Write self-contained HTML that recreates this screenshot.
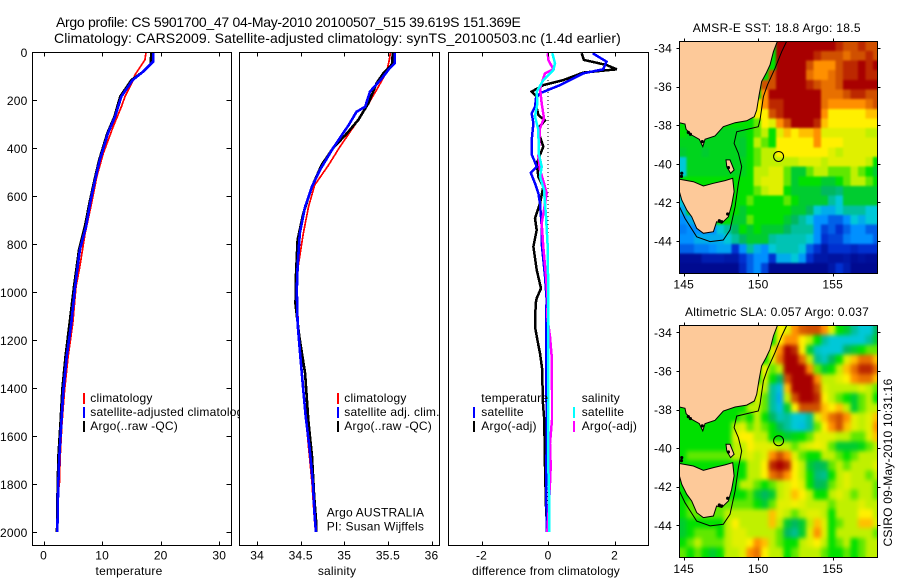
<!DOCTYPE html>
<html>
<head>
<meta charset="utf-8">
<title>Argo profile CS 5901700_47</title>
<style>
html,body{margin:0;padding:0;background:#fff;}
svg{display:block;}
text{font-family:"Liberation Sans",sans-serif;font-size:12px;fill:#000;letter-spacing:.2px;}
.title{font-size:14px;}
</style>
</head>
<body>
<svg id="fig" xmlns="http://www.w3.org/2000/svg" width="900" height="580" viewBox="0 0 900 580">
  <defs>
    <filter id="blurSst" filterUnits="userSpaceOnUse" x="670" y="30" width="220" height="255" color-interpolation-filters="sRGB">
      <feGaussianBlur in="SourceGraphic" stdDeviation="1" result="b"/>
      <feMerge><feMergeNode in="SourceGraphic"/><feMergeNode in="b"/></feMerge>
    </filter>
    <filter id="blurSla" filterUnits="userSpaceOnUse" x="670" y="315" width="220" height="255" color-interpolation-filters="sRGB">
      <feGaussianBlur in="SourceGraphic" stdDeviation="2.2" result="b"/>
      <feMerge><feMergeNode in="SourceGraphic"/><feMergeNode in="b"/></feMerge>
    </filter>
  </defs>
  <rect width="900" height="580" fill="#fff"/>
  <text class="title" x="56" y="27" textLength="465">Argo profile: CS 5901700_47 04-May-2010 20100507_515 39.619S 151.369E</text>
  <text class="title" x="54" y="43" textLength="567">Climatology: CARS2009. Satellite-adjusted climatology: synTS_20100503.nc (1.4d earlier)</text>

  <g id="panelTemp"></g>
  <g id="panelSal"></g>
  <g id="panelDiff"></g>
  <g id="mapSst"></g>
  <g id="mapSla"></g>

  <text x="129" y="575" text-anchor="middle">temperature</text>
  <text x="337" y="575" text-anchor="middle">salinity</text>
  <text x="472" y="575" textLength="148">difference from climatology</text>

  <text x="692.7" y="32" textLength="168">AMSR-E SST: 18.8 Argo: 18.5</text>
  <text x="685" y="316" textLength="184">Altimetric SLA: 0.057 Argo: 0.037</text>
  <text transform="translate(892 546.5) rotate(-90)" textLength="168">CSIRO 09-May-2010 10:31:16</text>
</svg>

<script>
// ---- profile data ----
var depthTicks = [0, 200, 400, 600, 800, 1000, 1200, 1400, 1600, 1800, 2000];
var tempTicks = [0, 10, 20, 30];
var salTicks = [34, 34.5, 35, 35.5, 36];
var diffTicks = [-2, 0, 2];

var tempClimDepth = [0, 33, 96, 117, 186, 228, 311, 422, 519, 630, 756, 895, 978, 1130, 1270, 1408, 1546, 1686, 1810, 1815, 1950];
var tempClim = [17.5, 17.3, 15.6, 15.3, 13.9, 13.3, 11.9, 10.2, 9.1, 8.2, 7.1, 6.2, 5.55, 5.0, 4.2, 3.6, 3.15, 2.85, 2.7, 2.4, 2.25];

var tempSatDepth = [0, 40, 82, 117, 185, 270, 338, 450, 533, 617, 728, 825, 978, 1130, 1270, 1408, 1546, 1686, 1825, 2000];
var tempSat = [18.7, 18.7, 17.0, 15.2, 13.3, 12.2, 11.0, 9.6, 8.8, 8.05, 7.25, 6.2, 5.4, 4.75, 3.96, 3.4, 3.04, 2.7, 2.5, 2.36];

var tempArgoDepth = [0, 50, 82, 117, 185, 270, 338, 450, 533, 617, 728, 825, 978, 1130, 1270, 1408, 1546, 1686, 1825, 2000];
var tempArgo = [18.4, 18.3, 17.0, 15.0, 13.1, 12.1, 10.9, 9.5, 8.7, 7.95, 7.05, 6.05, 5.2, 4.45, 3.75, 3.2, 2.9, 2.55, 2.4, 2.3];

var salClimDepth = [0, 33, 82, 158, 228, 304, 395, 471, 554, 645, 756, 895, 992, 1130, 1242, 1367, 1519, 1644, 1796, 1936, 2000];
var salClim = [35.53, 35.516, 35.486, 35.37, 35.257, 35.12, 34.95, 34.82, 34.66, 34.59, 34.53, 34.47, 34.46, 34.47, 34.49, 34.52, 34.557, 34.59, 34.63, 34.655, 34.67];

var salSatDepth = [0, 46, 68, 110, 165, 228, 249, 304, 401, 492, 561, 645, 756, 895, 992, 1130, 1242, 1367, 1519, 1644, 1796, 1936, 2000];
var salSat = [35.58, 35.58, 35.52, 35.43, 35.295, 35.24, 35.14, 35.05, 34.87, 34.72, 34.63, 34.55, 34.49, 34.465, 34.455, 34.465, 34.49, 34.52, 34.557, 34.6, 34.64, 34.66, 34.675];

var salArgoDepth = [0, 50, 89, 130, 214, 283, 339, 401, 471, 561, 672, 783, 937, 1050, 1186, 1339, 1533, 1686, 1853, 1950, 2000];
var salArgo = [35.555, 35.55, 35.447, 35.37, 35.275, 35.16, 35.03, 34.87, 34.74, 34.63, 34.53, 34.465, 34.445, 34.44, 34.484, 34.55, 34.587, 34.63, 34.655, 34.675, 34.68];

var diffTempSatDepth = [5, 40, 72, 89, 138, 172, 193, 228, 256, 297, 367, 429, 478, 503, 547, 589, 631, 728, 797, 936, 1033, 1075, 1255, 1658, 1727, 1811, 1936, 2000];
var diffTempSat = [1.34, 1.76, 1.66, 1.06, 0.36, -0.24, -0.36, -0.39, -0.49, -0.44, -0.49, -0.48, -0.34, -0.52, -0.39, -0.29, -0.24, -0.19, -0.19, -0.09, -0.04, -0.05, -0.05, -0.04, -0.06, -0.06, -0.04, -0.04];

var diffTempArgoDepth = [5, 33, 54, 72, 86, 117, 138, 165, 186, 221, 263, 286, 311, 353, 394, 464, 520, 561, 631, 693, 742, 811, 908, 985, 1026, 1047, 1144, 1200, 1255, 1325, 1450, 1519, 1630, 1727, 1894, 2000];
var diffTempArgo = [1.01, 1.08, 1.76, 2.07, 1.06, 0.46, -0.14, -0.49, -0.34, -0.36, -0.29, -0.09, -0.26, -0.24, -0.14, -0.34, -0.29, -0.14, -0.24, -0.39, -0.34, -0.44, -0.34, -0.21, -0.34, -0.37, -0.39, -0.32, -0.24, -0.17, -0.16, -0.12, -0.10, -0.09, -0.06, -0.02];

var diffSalArgoDepth = [5, 33, 72, 89, 151, 214, 276, 318, 436, 491, 547, 589, 714, 811, 936, 1033, 1102, 1186, 1269, 1408, 1533, 1630, 1727, 1866, 2000];
var diffSalArgo = [-0.01, 0.01, 0.16, -0.09, -0.24, -0.19, -0.12, -0.24, -0.29, -0.24, -0.12, -0.04, -0.19, -0.14, -0.06, -0.01, -0.02, 0.06, 0.11, 0.12, 0.12, 0.06, 0.08, 0.04, -0.02];

var diffSalSatDepth = [5, 47, 75, 117, 165, 214, 269, 325, 422, 478, 520, 575, 686, 811, 1033, 1172, 1727, 1866, 2000];
var diffSalSat = [0.13, 0.21, 0.16, -0.14, -0.34, -0.32, -0.39, -0.29, -0.28, -0.19, -0.24, -0.12, -0.06, -0.01, 0.01, 0.01, 0.01, 0.04, 0.04];

var zeroLineDepth = [100, 2000];
var zeroLineValue = [0, 0];

// ---- map data (half-degree cells, colour index 0..10) ----
var mapLonTicks = [145, 150, 155];
var mapLatTicks = [34, 36, 38, 40, 42, 44];
var argoLon = [151.369];
var argoLat = [39.619];

var sstRows = [
[5,5,5,5,5,5,5,5,5,5,5,5,5,10,10,10,10,10,10,10,10,9.5,9,9,9.5,9,9],
[5,5,5,5,5,5,5,5,5,5,5,5,5,10,10,10,10,10,9.5,9,9,9,8.5,9,9,9.5,9],
[5,5,5,5,5,5,5,5,5,5,5,5,5,10,10,10,10,9,8,8,8,9,9.5,9.5,10,9.5,10],
[5,5,5,5,5,5,5,5,5,5,5,5,9,10,10,10,10,8.5,8,8,8.5,9,9.5,9.5,10,9.5,9.5],
[5,5,5,5,5,5,5,5,5,5,5,9,9,10,10,10,10,9.5,9,8.5,8.5,9,10,10,10,10,10],
[5,5,5,5,5,5,5,5,5,5,5,8,10,10,10,10,10,10,10,8.5,8.5,8.5,9,9.5,9.5,9,9],
[5,5,5,5,5,5,5,5,5,5,7,8,9.5,9.5,10,10,10,10,10,8.5,8,8,8,8,8,8.5,9],
[5,5,5,5,5,5,5,5,5,5,7,7,9,9.5,10,10,10,10,10,8,7,7,7,7,7,7.5,7.5],
[5,5,5,5,5,5,5,5,5,5,5.5,7,6.5,8,9,10,10,10,9.5,7.5,7,7,7,7,7,7,7],
[5,4.7,4.7,4.7,4.7,4.7,4.7,4.7,4.7,5,5.5,6,5,6.5,7.5,7,7.5,7.5,8,6.5,6.5,6.5,6.5,6.5,6.5,6,6],
[4.7,4.7,4.7,4.7,4.7,4.7,4.7,4.7,4.5,5,6,5.5,5,7,7,7,7,7,8,7,7,7,6.5,6.5,6.5,6.5,6.5],
[4.5,4.7,4.7,4.5,4.7,4.7,4.7,4.7,4.5,5,5.5,6,6,7,7,7,7,7,7,7,6.5,6,6.5,6.5,6.5,6.5,6.5],
[3,4.7,4.7,4.7,4.7,4.7,4.7,4.7,4.7,5,5.5,6,6,6,6,6,6.5,6.5,6.5,6,6.5,6.5,6.5,6.5,6.5,6,5],
[3,4.7,4.7,4.7,4.7,4.7,4.7,4.7,4.7,5,6,6,6.5,6.5,5.5,4.5,4.5,5.5,6,6,5.5,5.5,5.5,6,5.5,5,4.5],
[5,5,5,5,5,5,5,5,5,5,6,6.5,6.5,6.5,5.5,4.5,5,5,5,4.5,4.5,5,5.5,6,6,5.5,5],
[5,5,5,5,5,5,5,5,5,5,5.5,6,6.5,6.5,5,4.5,4.5,4.5,4.5,4,4,3.8,4.5,4.5,4.5,4.5,4.5],
[3,5,5,5,5,5,5,5,5,5.5,5,5,5,5,5.5,5,4.5,4.5,4.5,4.5,3.5,3,4.5,4.5,4.5,4.5,4.5],
[2.5,5,5,5,5,5,5,5,4.5,5,5,5,5,5,5,4.5,4.5,4,3,2.5,2.5,3,3.5,3.5,3.5,3,3],
[2,2.5,3,5,5,5,5,4.5,4.5,5.5,5,5,5,5,4.5,4,3.5,3,2,2,1.5,1.5,2,3,2.5,3,3],
[1.8,2,2,2,2,3,3.5,4,5,4.5,5,4.5,4.5,4.5,4,3.5,3.5,3.5,2,1.2,1.5,1,1.5,2,2,1.5,1.5],
[2,2,2.5,2.5,2.5,2.5,3,3.5,4,4.5,4.5,4.5,3.5,3.3,3.3,3.3,3.3,3,2,1,1.2,1.2,1.8,2,2,2,1.5],
[1.5,1.5,1.8,1.8,2,2.3,2.3,1,2,3.5,2.5,2,3,3.3,3.3,3.3,3,1.5,1,0.5,1,1,1,0.8,1,1,1],
[0.3,0.3,0.3,0.6,0.6,0.6,0.5,0.5,1,1.5,2,2,1,2.5,2.5,3,2.2,1,0.5,0.5,0.4,0.4,0.5,0.3,0.4,0.3,0.3],
[0.2,0.2,0.2,0.2,0.2,0.2,0.2,0.2,0.8,1.5,2,1.2,0.2,0.2,0.2,0.2,0.2,0.2,0.2,0.2,0.5,1,0.6,0.2,0.2,0.2,0.2]
];

var slaRows = [
[5,5,5,5,5,5,5,5,5,5,5,5,5,7,6.5,8,8.8,9,9,8,6.5,5,4.5,3.5,3,3,4],
[5,5,5,5,5,5,5,5,5,5,5,5,5,7,8,8,7,6,5,3.5,3,3,3,3,3,3.5,4.5],
[5,5,5,5,5,5,5,5,5,5,5,5,6.5,8,10,9.5,7,4.5,3.2,3,3,3,4,4.5,5,5.5,5.5],
[5,5,5,5,5,5,5,5,5,5,5,5,6.5,8.5,10,10,8.5,6,3.6,3.2,4,5,6.5,7.5,8.5,8.5,7.5],
[5,5,5,5,5,5,5,5,5,5,5,7,5.5,6,10,10,10,8,5.5,4.5,5,6,7.5,8.5,9.5,9.5,8.5],
[5,5,5,5,5,5,5,5,5,5,5,6.5,5,4,9,10,10,10,8,6,6,6.5,7,8,8.5,8.5,7.5],
[5,5,5,5,5,5,5,5,5,5,6.5,6,3.5,2.8,7.5,10,10,10,9,6.5,6,6,6,6,6.5,6,5.5],
[5,5,5,5,5,5,5,5,5,5,6.5,5.5,3.5,2.5,6,9,10,10,9.5,7,6,5.5,5,4.5,5.5,6,5],
[5,5,5,5,5,5,5,5,5,6,6,5.5,3.5,2.8,4.5,7,9,9,9,7.5,7,7.5,6,4.5,5.5,6,6],
[5,5,5,5,5,5,5,5,5.5,5,6,5,4,3.3,3.5,3,3,3.5,6.5,7.5,8.5,9,8,6.5,6,6.5,7.5],
[5,5,5,5,5,5,5,6,6.5,5.5,6,5.5,5,4,3.5,3,2.8,3.5,5.5,7,8,9,7.5,6.5,6,6.5,8],
[5,5,5,5,5,5,5,6.5,7,7,6,6,5,5,4.5,4.8,5,5.5,6.5,6.5,6.5,6,6,5.5,5.5,6.5,7.5],
[5,5,5,5,5,5,5,6,6,7,6.5,6.5,6.5,6,6,5.5,6,6.5,6.8,6.5,5.5,4.5,4.5,4.5,4.8,5.5,6],
[5,5.5,5.5,5.5,5.5,5.5,5.5,6,6,6.5,6,6.5,8,9,8,6.5,5.5,5,5,6,6,5.5,5,5.5,6,6,6],
[5,5,5,5,5,5,5,5,5,6,6,7,9.5,10,9.5,7,6,4.5,4,4.2,5.5,6,5.5,6,6,6,6.5],
[5,5,5,5,5,5,5,5,5,6,6,7,8.5,9,8,7,6,5,3.8,3.6,5,6,6.5,6,6,5.5,6],
[5,5,5,5,5,5,5,5,6,6,5.5,5,5.5,6,6.5,7,6.5,5,4,4.2,5.5,6,6.5,6,6,6,5.5],
[5,5,5,5,5,5,5,5,5,5.5,4.5,4,4.5,6,6.5,7.5,7,6,5,5,6,6.5,6,5.5,6,6,5.5],
[5,5.5,5.5,5.5,5.5,5.5,5.5,5.5,5.5,5.5,5,4.5,5.5,6.5,6.5,6.8,6.5,6,6,6,5.5,6,6,6,6.5,6,6],
[5,5.5,5.5,5.5,5.5,5.5,6,6,6,6,6,6,7.5,6.5,6,5.5,6,6.5,6.5,6,5,6,6,6,7,7,6],
[4.5,5,5,5,5,5,6,7,6,6,6,6,7.5,6,4.5,4,4.5,6,7.5,6.5,5,5.5,6,6,7.5,7.5,6.5],
[4.5,5,5.5,5.5,5.5,5,6,6.5,6.5,6,6,6,6,5.5,4,3.6,4.5,6.5,8,6.5,5,6,6,6,6,6,5.5],
[5,5.5,6,5.5,5.5,5.5,6,6.5,6.5,7,8,7.5,6,5.5,5,5,6,6.5,7,6,5,5.5,6,5,5.5,6,6],
[5.5,5,5.5,5,4.5,5,6,6,6.5,8,8.5,7,6,6,5,5.5,6,6,6,5.5,5,5,5.5,5,5.5,6,6]
];

var mainlandLon = [144.71,151.29,151.02,150.79,150.53,150.23,150.06,149.90,149.74,149.23,148.45,147.66,147.10,146.43,146.28,146.05,145.54,145.16,145.09,144.71];
var mainlandLat = [33.65,33.65,34.19,34.88,35.31,35.74,36.44,37.21,37.56,37.77,37.87,38.08,38.56,38.73,39.11,38.73,38.51,38.21,37.94,37.87];
var tasmaniaLon = [144.71,145.65,146.32,146.99,147.77,148.29,148.38,148.22,148.00,147.55,147.21,146.99,146.32,145.87,145.54,145.20,144.87,144.71];
var tasmaniaLat = [40.80,40.93,41.15,41.01,40.87,40.75,41.44,42.13,42.74,43.08,43.00,43.52,43.60,43.34,42.74,42.39,41.88,41.44];
var flindersLon = [147.84,148.11,148.38,148.15,147.89];
var flindersLat = [39.80,39.80,40.32,40.49,40.15];
var isobathLon = [151.91,151.58,151.13,150.62,150.35,150.12,150.01,148.56,148.38,148.67,148.89,148.67,148.45,148.11,147.66,146.77,145.87,145.09,144.71];
var isobathLat = [33.65,34.19,35.05,35.92,36.52,37.73,38.08,38.34,38.94,39.46,40.15,41.01,42.22,43.43,43.95,44.03,43.78,42.83,42.22];
var isletLon = [145.31,145.45,144.87,144.85,147.39,147.55,146.25,148.0,147.95];
var isletLat = [38.37,38.47,40.49,40.65,42.95,43.0,38.85,40.2,42.6];

var paletteStops = [[0,0,128],[0,48,208],[0,144,255],[0,200,216],[0,184,96],[0,224,0],[192,240,0],[255,240,0],[255,144,0],[208,80,0],[168,0,0]];

// ---- helpers ----
var NS = 'http://www.w3.org/2000/svg';
function mk(parent, tag, attrs) {
  var el = document.createElementNS(NS, tag);
  for (var k in attrs) el.setAttribute(k, attrs[k]);
  parent.appendChild(el);
  return el;
}
function depthY(d) { return 52 + d * 0.24; }
function tempX(v) { return 43.5 + v * 5.86; }
function salX(v) { return 344.3 + (v - 35) * 87.2; }
function diffX(v) { return 548 + v * 33.25; }

function drawSeries(g, xf, depths, values, color, w, name, dash) {
  var pts = [];
  for (var i = 0; i < values.length; i++) pts.push(xf(values[i]).toFixed(1) + ',' + depthY(depths[i]).toFixed(1));
  var attrs = {points: pts.join(' '), fill: 'none', stroke: color, 'stroke-width': w, 'shape-rendering': 'crispEdges'};
  if (dash) attrs['stroke-dasharray'] = dash;
  var el = mk(g, 'polyline', attrs);
  
  
}

function drawFrame(g, left, right, top, bottom) {
  var bg = mk(g, 'rect', {x: left, y: top, width: right - left, height: bottom - top, fill: '#fff'});
  
  
}
function drawBorder(g, left, right, top, bottom) {
  var b = mk(g, 'rect', {x: left, y: top, width: right - left, height: bottom - top, fill: 'none', stroke: '#000', 'stroke-width': 1, 'shape-rendering': 'crispEdges'});
  
  
}
function drawXTicks(g, ticks, xf, top, bottom) {
  ticks.forEach(function (t) {
    var x = Math.round(xf(t)) + 0.5;
    var a = mk(g, 'line', {x1: x, x2: x, y1: top, y2: top + 4, stroke: '#000', 'shape-rendering': 'crispEdges'});
    
    
    var b = mk(g, 'line', {x1: x, x2: x, y1: bottom - 4, y2: bottom, stroke: '#000', 'shape-rendering': 'crispEdges'});
    
    
    var l = mk(g, 'text', {x: xf(t), y: 559.5, 'text-anchor': 'middle'});
    
    
    l.textContent = String(t);
  });
}
function drawLegend(g, x, lx, labels, colors, startY) {
  labels.forEach(function (s, i) {
    var base = startY + i * 14;
    if (colors[i]) {
      var m = mk(g, 'rect', {x: lx, y: base - 9, width: 2, height: 11, fill: colors[i], 'shape-rendering': 'crispEdges'});
      
      
    }
    var t = mk(g, 'text', {x: x, y: base});
    
    
    t.textContent = s;
  });
}

// ---- temperature panel ----
var gT = document.getElementById('panelTemp');
drawFrame(gT, 32.5, 231.5, 52.5, 545.5);
drawSeries(gT, tempX, tempClimDepth, tempClim, '#ff0000', 1.7, 'temperature-climatology-line');
drawSeries(gT, tempX, tempArgoDepth, tempArgo, '#000000', 2.6, 'temperature-argo-line');
drawSeries(gT, tempX, tempSatDepth, tempSat, '#0000ff', 2.6, 'temperature-satellite-line');
drawXTicks(gT, tempTicks, tempX, 52.5, 545.5);
depthTicks.forEach(function (d) {
  var y = Math.round(depthY(d)) + 0.5;
  var a = mk(gT, 'line', {x1: 32.5, x2: 37, y1: y, y2: y, stroke: '#000', 'shape-rendering': 'crispEdges'});
  
  
  var b = mk(gT, 'line', {x1: 226.5, x2: 231.5, y1: y, y2: y, stroke: '#000', 'shape-rendering': 'crispEdges'});
  
  
  var l = mk(gT, 'text', {x: 27.5, y: depthY(d) + 5, 'text-anchor': 'end'});
  
  
  l.textContent = String(d);
});
drawLegend(gT, 90.3, 83, ['climatology', 'satellite-adjusted climatology', 'Argo(..raw -QC)'], ['#ff0000', '#0000ff', '#000000'], 402);
drawBorder(gT, 32.5, 231.5, 52.5, 545.5);

// ---- salinity panel ----
var gS = document.getElementById('panelSal');
drawFrame(gS, 239.5, 439.5, 52.5, 545.5);
drawSeries(gS, salX, salClimDepth, salClim, '#ff0000', 1.7, 'salinity-climatology-line');
drawSeries(gS, salX, salArgoDepth, salArgo, '#000000', 2.6, 'salinity-argo-line');
drawSeries(gS, salX, salSatDepth, salSat, '#0000ff', 2.6, 'salinity-satellite-line');
drawXTicks(gS, salTicks, salX, 52.5, 545.5);
drawLegend(gS, 344.3, 337, ['climatology', 'satellite adj. clim.', 'Argo(..raw -QC)'], ['#ff0000', '#0000ff', '#000000'], 402);
drawLegend(gS, 326.7, 0, ['Argo AUSTRALIA', 'PI: Susan Wijffels'], [null, null], 516.7);
drawBorder(gS, 239.5, 439.5, 52.5, 545.5);

// ---- difference panel ----
var gD = document.getElementById('panelDiff');
drawFrame(gD, 448.5, 648.5, 52.5, 545.5);
drawSeries(gD, diffX, zeroLineDepth, zeroLineValue, '#000000', 1, 'zero-difference-line', '1 3');
drawSeries(gD, diffX, diffTempArgoDepth, diffTempArgo, '#000000', 2.5, 'difference-temperature-argo-line');
drawSeries(gD, diffX, diffTempSatDepth, diffTempSat, '#0000ff', 2.5, 'difference-temperature-satellite-line');
drawSeries(gD, diffX, diffSalArgoDepth, diffSalArgo, '#ff00ff', 2.5, 'difference-salinity-argo-line');
drawSeries(gD, diffX, diffSalSatDepth, diffSalSat, '#00ffff', 2.5, 'difference-salinity-satellite-line');
drawXTicks(gD, diffTicks, diffX, 52.5, 545.5);
drawLegend(gD, 481.3, 473, ['temperature', 'satellite', 'Argo(-adj)'], [null, '#0000ff', '#000000'], 402);
drawLegend(gD, 581.7, 573, ['salinity', 'satellite', 'Argo(-adj)'], [null, '#00ffff', '#ff00ff'], 402);
drawBorder(gD, 448.5, 648.5, 52.5, 545.5);

// ---- maps ----
function colorFor(v) {
  var c = Math.max(0, Math.min(10, v));
  var i = Math.min(9, Math.floor(c));
  var f = c - i;
  var a = paletteStops[i], b = paletteStops[i + 1];
  return 'rgb(' + Math.round(a[0] + (b[0] - a[0]) * f) + ',' + Math.round(a[1] + (b[1] - a[1]) * f) + ',' + Math.round(a[2] + (b[2] - a[2]) * f) + ')';
}

function drawMap(g, rows, lat34Y, top, bottom, clipId, filterId, labelY, cname) {
  var left = 679.5, right = 877.5;
  function lonX(lon) { return 683.7 + (lon - 145) * 14.9; }
  function latY(lat) { return lat34Y + (lat - 34) * 19.3; }
  function pts(lons, lats) {
    var out = [];
    for (var i = 0; i < lons.length; i++) out.push(lonX(lons[i]).toFixed(1) + ',' + latY(lats[i]).toFixed(1));
    return out.join(' ');
  }
  var cp = mk(g, 'clipPath', {id: clipId});
  mk(cp, 'rect', {x: left, y: top, width: right - left, height: bottom - top});
  var clipped = mk(g, 'g', {'clip-path': 'url(#' + clipId + ')'});
  
  
  var cells = mk(clipped, 'g', {filter: 'url(#' + filterId + ')'});
  
  
  rows.forEach(function (row, r) {
    row.forEach(function (v, c) {
      var x0 = lonX(144.7 + c * 0.5), y0 = latY(33.65 + r * 0.5);
      var cell = mk(cells, 'rect', {x: x0.toFixed(2), y: y0.toFixed(2), width: 7.6, height: 9.8, fill: colorFor(v), 'shape-rendering': 'crispEdges'});
      
      
    });
  });
  var landStyle = {fill: '#fdc999', stroke: '#000', 'stroke-width': 1};
  var main = mk(clipped, 'polygon', Object.assign({points: pts(mainlandLon, mainlandLat)}, landStyle));
  
  
  var tas = mk(clipped, 'polygon', Object.assign({points: pts(tasmaniaLon, tasmaniaLat)}, landStyle));
  
  
  var fl = mk(clipped, 'polygon', Object.assign({points: pts(flindersLon, flindersLat)}, landStyle));
  
  
  isletLon.forEach(function (lon, i) {
    var dot = mk(clipped, 'circle', {cx: lonX(lon), cy: latY(isletLat[i]), r: 1.6, fill: '#000'});
    
    
  });
  var iso = mk(clipped, 'polyline', {points: pts(isobathLon, isobathLat), fill: 'none', stroke: '#000', 'stroke-width': 1});
  
  
  var circ = mk(clipped, 'circle', {cx: lonX(argoLon[0]), cy: latY(argoLat[0]), r: 5, fill: 'none', stroke: '#000', 'stroke-width': 1});
  
  
  var border = mk(g, 'rect', {x: left, y: top, width: right - left, height: bottom - top, fill: 'none', stroke: '#000', 'shape-rendering': 'crispEdges'});
  
  

  mapLonTicks.forEach(function (t) {
    var x = Math.round(lonX(t)) + 0.5;
    var a = mk(g, 'line', {x1: x, x2: x, y1: top - 3, y2: top, stroke: '#000', 'shape-rendering': 'crispEdges'});
    
    
    var b = mk(g, 'line', {x1: x, x2: x, y1: bottom, y2: bottom + 3, stroke: '#000', 'shape-rendering': 'crispEdges'});
    
    
    var l = mk(g, 'text', {x: lonX(t), y: labelY, 'text-anchor': 'middle'});
    
    
    l.textContent = String(t);
  });
  mapLatTicks.forEach(function (t) {
    var y = Math.round(latY(t)) + 0.5;
    var a = mk(g, 'line', {x1: left - 3, x2: left, y1: y, y2: y, stroke: '#000', 'shape-rendering': 'crispEdges'});
    
    
    var b = mk(g, 'line', {x1: right, x2: right + 3, y1: y, y2: y, stroke: '#000', 'shape-rendering': 'crispEdges'});
    
    
    var l = mk(g, 'text', {x: 672, y: latY(t) + 4.5, 'text-anchor': 'end'});
    
    
    l.textContent = '-' + t;
  });
}

drawMap(document.getElementById('mapSst'), sstRows, 48, 41.5, 273.5, 'clipSst', 'blurSst', 288.5, 'sst-cells');
drawMap(document.getElementById('mapSla'), slaRows, 332.3, 325.5, 557.5, 'clipSla', 'blurSla', 573, 'sla-cells');
</script>
</body>
</html>
